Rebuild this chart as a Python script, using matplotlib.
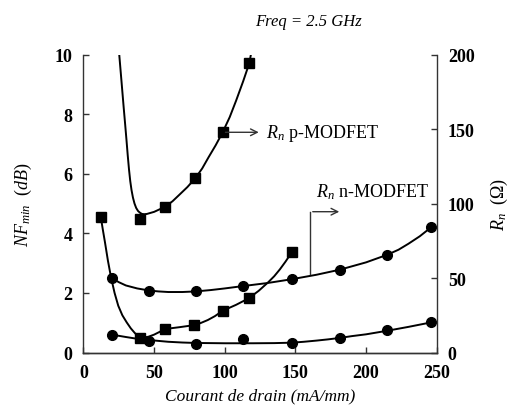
import numpy as np
import matplotlib
matplotlib.use("Agg")
import matplotlib.pyplot as plt

plt.rcParams['font.family'] = ['Liberation Serif', 'DejaVu Serif']
plt.rcParams['mathtext.fontset'] = 'custom'
plt.rcParams['mathtext.rm'] = 'Liberation Serif'
plt.rcParams['mathtext.it'] = 'Liberation Serif:italic'
plt.rcParams['mathtext.bf'] = 'Liberation Serif:bold'

# measured points, drain current in mA/mm
ids_p = [40, 58, 79, 98.5, 117]
rn_p = [89.6, 97.9, 116.8, 147.8, 194]
ids_p_nf = [12.2, 40, 58, 78.5, 98.5, 117, 147.5]
nf_p = [4.56, 0.47, 0.79, 0.92, 1.40, 1.82, 3.37]

ids_n = [20, 46.5, 79.5, 113, 147.5, 181.5, 215, 246]
rn_n = [50, 41.5, 41, 44.8, 49.2, 55.6, 65.6, 84]
nf_n = [0.60, 0.40, 0.30, 0.44, 0.32, 0.50, 0.75, 1.01]

# fitted trend curves
fit_rn_p_x = [25.3, 26.9, 28.4, 29.5, 30.4, 31.3, 32.2, 33.1, 34, 35, 36.1, 37.3, 38.6, 40, 41.4, 43, 44.9,
              50, 58, 63, 68, 73.5, 79, 84, 88.5, 93.5, 98.5, 103.5, 108, 113, 117.3, 118.5]
fit_rn_p_y = [200, 182, 165, 153, 143, 132.5, 123, 115, 109, 104, 100, 97, 95, 93.8, 93, 92.8, 93,
              94.4, 97.9, 101.5, 106, 111, 116.8, 123.5, 131, 139, 147.8, 158, 169, 182, 194, 200]
fit_rn_n_x = [20, 25, 30, 38, 46.5, 53, 60, 70, 79.5, 90, 100, 113, 130, 147.5, 165, 181.5, 200, 215, 223, 230, 238, 246]
fit_rn_n_y = [50, 47.2, 45, 43, 41.6, 41, 40.6, 40.6, 41, 41.9, 43, 44.6, 46.6, 49.2, 52.2, 55.6, 60.5, 65.6, 69, 73, 78, 84]
fit_nf_n_x = [20, 30, 38, 46.5, 53, 60, 70, 79.5, 100, 120, 135, 147.5, 156, 165, 173, 181.5, 190, 200, 215, 230, 246]
fit_nf_n_y = [0.60, 0.52, 0.46, 0.42, 0.39, 0.36, 0.335, 0.32, 0.31, 0.31, 0.315, 0.33, 0.36, 0.40, 0.44, 0.49, 0.55, 0.61, 0.73, 0.86, 1.01]
fit_nf_p_x = [12.2, 13.7, 15.2, 17.3, 19.5, 22, 24.6, 27.5, 30.6, 33.5, 36.4, 38.3, 40, 42.3, 46, 50, 58,
              68, 78.5, 83, 88, 93, 98.5, 108, 117, 124, 130.8, 135, 139, 143, 147.5]
fit_nf_p_y = [4.56, 4.12, 3.70, 3.08, 2.52, 2.00, 1.57, 1.25, 1.01, 0.81, 0.65, 0.57, 0.52, 0.50, 0.53, 0.60, 0.79,
              0.85, 0.92, 0.99, 1.09, 1.22, 1.40, 1.60, 1.82, 2.07, 2.36, 2.56, 2.79, 3.05, 3.37]

fig = plt.figure(figsize=(5.1, 4.1), dpi=100)
ax = fig.add_axes([0.1637, 0.1378, 0.6926, 0.7268])
ax2 = ax.twinx()

lw = 1.4
ax.plot(fit_nf_p_x, fit_nf_p_y, color='black', lw=lw, solid_joinstyle='round')
ax.plot(fit_nf_n_x, fit_nf_n_y, color='black', lw=lw, solid_joinstyle='round')
ax.plot(ids_p_nf, nf_p, 's', color='black', ms=7.5, clip_on=False)
ax.plot(ids_n, nf_n, 'o', color='black', ms=7, clip_on=False)

ax2.plot(fit_rn_p_x, fit_rn_p_y, color='black', lw=lw, solid_joinstyle='round')
ax2.plot(fit_rn_n_x, fit_rn_n_y, color='black', lw=lw, solid_joinstyle='round')
ax2.plot(ids_p, rn_p, 's', color='black', ms=7.5, clip_on=False)
ax2.plot(ids_n, rn_n, 'o', color='black', ms=7, clip_on=False)

ax.set_xlim(0, 250)
ax.set_ylim(0, 10)
ax2.set_ylim(0, 200)
ax.set_xticks([0, 50, 100, 150, 200, 250])
ax.set_yticks([0, 2, 4, 6, 8, 10])
ax2.set_yticks([0, 50, 100, 150, 200])

for a in (ax, ax2):
    a.spines['top'].set_visible(False)
    for s in a.spines.values():
        s.set_color('#333333')
        s.set_linewidth(1.0)
    a.tick_params(direction='in', length=4, width=1.0, color='#333333',
                  labelsize=13, pad=8)
    for lab in a.get_xticklabels() + a.get_yticklabels():
        lab.set_fontweight('bold')
ax2.spines['left'].set_visible(False)
ax.spines['right'].set_visible(False)

ax.set_xlabel('Courant de drain (mA/mm)', fontsize=12.5, style='italic', labelpad=5)
ax.set_ylabel(r'$NF_{min}\ \ (dB)$', fontsize=13, labelpad=15)
ax2.set_ylabel(r'$R_{n}\ \ (\Omega)$', fontsize=13, labelpad=10)

fig.text(0.604, 0.946, 'Freq = 2.5 GHz', ha='center', va='center',
         fontsize=12, style='italic')

# annotation arrows for the Rn curves
arrow_kw = dict(arrowstyle='->', color='#333333', lw=1.0, mutation_scale=12)
ax2.annotate('', xy=(126, 147.8), xytext=(98.5, 147.8), arrowprops=arrow_kw)
ax2.text(129, 147.5, r'$R_{n}$ p-MODFET', fontsize=13, va='center', ha='left')

ax2.plot([160.3, 160.3], [52.7, 94.5], color='#333333', lw=1.0)
ax2.annotate('', xy=(183, 94.5), xytext=(160.3, 94.5), arrowprops=arrow_kw)
ax2.text(164.5, 108.5, r'$R_{n}$ n-MODFET', fontsize=13, va='center', ha='left')

fig.savefig('out.png', dpi=100)
